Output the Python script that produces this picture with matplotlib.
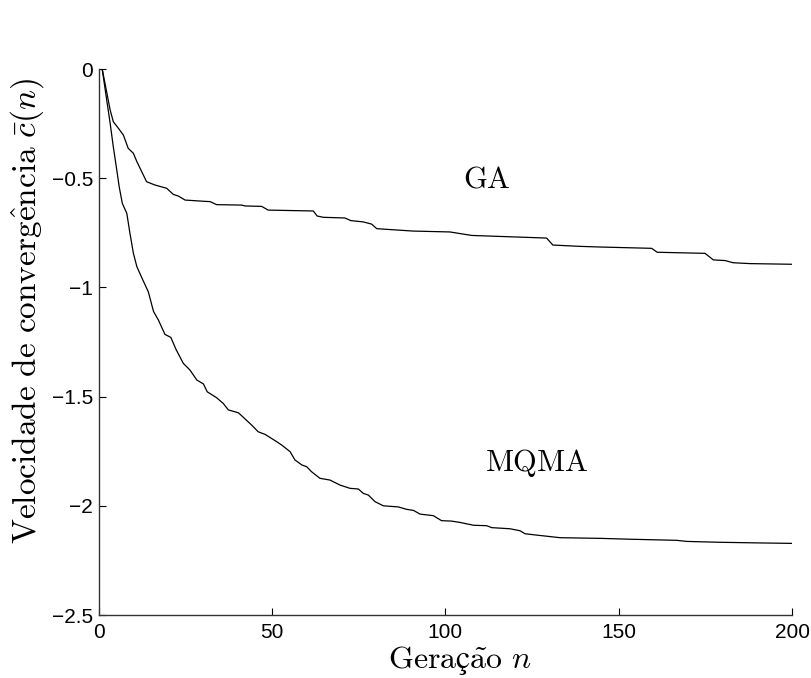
import numpy as np
import matplotlib
matplotlib.use('Agg')
import matplotlib.pyplot as plt

# %% Curve data (generation n, mean convergence speed)
ga_n = [1, 3.3, 4.2, 5.7, 7.1, 8.5, 10, 11, 12.4, 13.8, 16.2, 19.6, 21.5,
        23, 24.9, 30.7, 32.1, 34, 41.2, 42.2, 47, 48.9, 61.9, 63, 64.8, 71,
        72.7, 76.3, 78.7, 80.2, 83, 90.7, 101.3, 107.6, 129.2, 131, 138.8,
        144.6, 159.5, 161.1, 174.9, 177.3, 180.7, 183, 187.9, 200]
ga_c = [0, -0.188, -0.241, -0.272, -0.302, -0.363, -0.386, -0.424, -0.47,
        -0.516, -0.531, -0.546, -0.574, -0.582, -0.6, -0.606, -0.607,
        -0.621, -0.623, -0.627, -0.629, -0.646, -0.65, -0.673, -0.679,
        -0.682, -0.694, -0.7, -0.71, -0.731, -0.734, -0.742, -0.746,
        -0.762, -0.774, -0.806, -0.812, -0.815, -0.821, -0.839, -0.844,
        -0.874, -0.877, -0.887, -0.891, -0.894]

mqma_n = [1, 2.3, 3.3, 4.2, 5.2, 5.9, 6.8, 8.1, 9, 10, 11, 12.4, 14.3, 15.8,
          17.2, 19.1, 20.8, 22.3, 24.4, 26.3, 28.3, 30.2, 31.3, 34, 35.9,
          37.4, 40.3, 44.1, 46, 48, 51.3, 52.8, 55.2, 56.6, 58.6, 60, 61.4,
          63.8, 66.7, 69.6, 72.5, 74.9, 76.3, 77.8, 79.7, 82.1, 86.4, 88.8,
          90.8, 92.7, 96.5, 98.9, 101.8, 104.2, 108.1, 111.9, 113.4, 118.6,
          121.5, 123, 126.3, 133.1, 144.6, 153.3, 166.7, 169.6, 179.2,
          190.8, 200]
mqma_c = [0, -0.142, -0.249, -0.356, -0.462, -0.539, -0.615, -0.661, -0.752,
          -0.844, -0.905, -0.955, -1.02, -1.11, -1.149, -1.215, -1.229,
          -1.284, -1.348, -1.378, -1.424, -1.442, -1.478, -1.505, -1.531,
          -1.561, -1.574, -1.63, -1.661, -1.673, -1.706, -1.722, -1.752,
          -1.79, -1.813, -1.821, -1.844, -1.874, -1.882, -1.905, -1.92,
          -1.923, -1.943, -1.951, -1.981, -2.0, -2.005, -2.016, -2.021,
          -2.038, -2.045, -2.068, -2.07, -2.076, -2.089, -2.091, -2.1,
          -2.105, -2.114, -2.128, -2.134, -2.146, -2.149, -2.153, -2.158,
          -2.163, -2.167, -2.17, -2.172]

x_ticks = [0, 50, 100, 150, 200]
y_ticks = [0, -0.5, -1, -1.5, -2, -2.5]
y_tick_labels = ['0', '\u22120.5', '\u22121', '\u22121.5', '\u22122', '\u22122.5']

# %% Plot
plt.rcParams['mathtext.fontset'] = 'cm'
plt.rcParams['font.family'] = ['Liberation Sans', 'DejaVu Sans']

fig = plt.figure(figsize=(8.12, 6.78), dpi=100)
ax = fig.add_axes([0.1216, 0.0929, 0.8538, 0.8053])

ax.plot(ga_n, ga_c, color='k', linewidth=0.9)
ax.plot(mqma_n, mqma_c, color='k', linewidth=0.9)

ax.text(112, -0.504, r'$\mathrm{GA}$', fontsize=22, ha='center', va='center')
ax.text(126.4, -1.804, r'$\mathrm{MQMA}$', fontsize=22, ha='center',
        va='center')

ax.set_xlim(0, 200)
ax.set_ylim(-2.5, 0)
ax.set_xticks(x_ticks)
ax.set_xticklabels([str(t) for t in x_ticks])
ax.set_yticks(y_ticks)
ax.set_yticklabels(y_tick_labels)

for side in ['top', 'right']:
    ax.spines[side].set_visible(False)
for side in ['left', 'bottom']:
    ax.spines[side].set_linewidth(1.0)
    ax.spines[side].set_color('#333333')

ax.tick_params(axis='both', direction='in', length=5, width=0.8,
               labelsize=15, colors='k')
ax.tick_params(axis='x', pad=6)
ax.tick_params(axis='y', pad=4)

ax.set_xlabel(r'$\mathrm{Geraç\tilde{a}o}\ n$', fontsize=23)
ax.xaxis.set_label_coords(0.521, -0.053)
ax.set_ylabel(r'$\mathrm{Velocidade\ de\ converg\hat{e}ncia}\ \bar{c}(n)$',
              fontsize=24)
ax.yaxis.set_label_coords(-0.076, 0.557)

fig.savefig('out.png', dpi=100)
